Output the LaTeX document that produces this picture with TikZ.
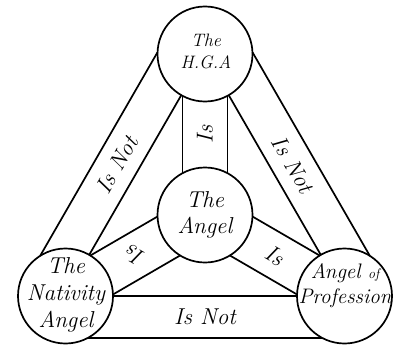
\documentclass[tikz,border=0pt]{standalone}
\usetikzlibrary{calc}
\begin{document}
\begin{tikzpicture}[x=1pt,y=-1pt, line width=1.7pt,
  ring/.style={circle, draw, minimum size=95pt, inner sep=0pt},
  big/.style={font=\fontsize{23}{27}\selectfont\itshape, align=center, inner sep=0pt},
  lab/.style={font=\fontsize{23}{24}\selectfont\itshape, inner sep=0pt}]
\useasboundingbox (0,0) rectangle (393,345);
\node[ring] (T) at (205,54) {};
\node[ring] (C) at (205,215) {};
\node[ring] (L) at (65.5,296) {};
\node[ring] (R) at (344.5,296) {};
% outer bands
\draw ($(L)!47.5pt!(T)$) -- ($(T)!47.5pt!(L)$);
\draw ($(L)!47.5pt!62.2:(T)$) -- ($(T)!47.5pt!-62.2:(L)$);
\draw ($(T)!47.5pt!(R)$) -- ($(R)!47.5pt!(T)$);
\draw ($(T)!47.5pt!62.2:(R)$) -- ($(R)!47.5pt!-62.2:(T)$);
\draw ($(L)!47.5pt!(R)$) -- ($(R)!47.5pt!(L)$);
\draw ($(L)!47.5pt!-62.2:(R)$) -- ($(R)!47.5pt!62.2:(L)$);
% spokes
\draw ($(C)!47.5pt!28.3:(L)$) -- ($(L)!47.5pt!-28.3:(C)$);
\draw ($(C)!47.5pt!-28.3:(L)$) -- ($(L)!47.5pt!28.3:(C)$);
\draw ($(C)!47.5pt!28.3:(R)$) -- ($(R)!47.5pt!-28.3:(C)$);
\draw ($(C)!47.5pt!-28.3:(R)$) -- ($(R)!47.5pt!28.3:(C)$);
\draw ($(C)!47.5pt!28.3:(T)$) -- ($(T)!47.5pt!-28.3:(C)$);
\draw ($(C)!47.5pt!-28.3:(T)$) -- ($(T)!47.5pt!28.3:(C)$);
% labels
\coordinate (mTC) at ($(T)!0.5!(C)$);
\node[lab, rotate=90] (isTC) at (mTC) {Is};
\coordinate (mLT) at ($(L)!0.5!(T)$);
\node[lab, rotate=60] (notLT) at ($(mLT)!21pt!90:(T)$) {Is Not};
\coordinate (mTR) at ($(T)!0.5!(R)$);
\node[lab, rotate=-60] (notTR) at ($(mTR)!21pt!90:(R)$) {Is Not};
\coordinate (mLR) at ($(L)!0.5!(R)$);
\node[lab] (notLR) at ($(mLR)!21pt!-90:(R)$) {Is Not};
\node[lab, rotate=150] (isCL) at ($(C)!0.5!(L)$) {Is};
\node[lab, rotate=-30] (isCR) at ($(C)!0.5!(R)$) {Is};
% circle texts
\node[big, font=\fontsize{18}{22}\selectfont\itshape] (tT) at (206,51) {The\\H.G.A};
\node[big, font=\fontsize{23}{26}\selectfont\itshape] (tC) at (205,215) {The\\Angel};
\node[big] (tL) at (66,295) {The\\Nativity\\Angel};
\node[big, font=\fontsize{21}{25}\selectfont\itshape] (tR) at (345,286) {Angel {\fontsize{14}{14}\selectfont of}\\Profession};
\end{tikzpicture}
\end{document}
